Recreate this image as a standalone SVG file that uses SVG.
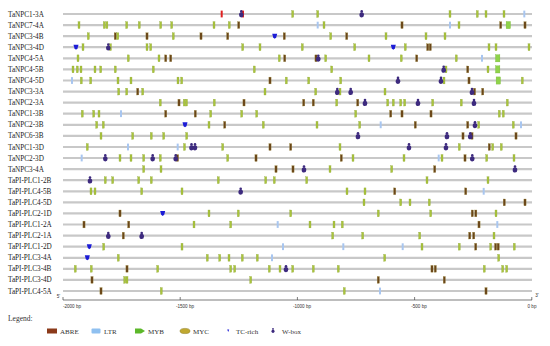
<svg xmlns="http://www.w3.org/2000/svg" xmlns:xlink="http://www.w3.org/1999/xlink" width="550" height="346" viewBox="0 0 550 346">
<style>
.bg{fill:#ffffff}
.ln{stroke:#c8c8c8;stroke-width:2.2}
.lab{font-family:"Liberation Serif",serif;font-size:7.2px;fill:#1a1a1a}
.ax{stroke:#444;stroke-width:0.7;fill:none}
.axt{font-family:"Liberation Sans",sans-serif;font-size:4.6px;fill:#333;text-anchor:middle}
.leg{font-family:"Liberation Serif",serif;font-size:7px;fill:#333}
</style>
<defs>
<rect id="g" x="-1" y="-3.4" width="2" height="6.8" fill="#a9c43c" stroke="#8aa432" stroke-width="0.3"/>
<rect id="b" x="-1.1" y="-3.4" width="2.2" height="6.8" fill="#6a4519" stroke="#9c8a3c" stroke-width="0.3"/>
<rect id="r" x="-1" y="-3.4" width="2" height="6.8" fill="#e02020"/>
<rect id="l" x="-1" y="-3.4" width="2" height="6.8" fill="#a8c6f0"/>
<rect id="G" x="-2.2" y="-3.6" width="4.4" height="7.2" fill="#8fd34a" stroke="#6fb030" stroke-width="0.3"/>
<path id="t" d="M-2.5,-2.5 L2.5,-2.5 L1.5,1.4 L0,2.5 L-1.5,1.4 Z" fill="#1c1cd6"/>
<g id="w" fill="#3d2a7e"><circle cx="0" cy="-2.6" r="1.3"/><ellipse cx="0" cy="0.8" rx="2.3" ry="2.6"/></g>
</defs>
<rect class="bg" x="0" y="0" width="550" height="346"/>

<g id="row-TaNPC1-3A" transform="translate(0,14)"><text class="lab" x="8" y="2.5">TaNPC1-3A</text><line class="ln" x1="63" y1="0" x2="532" y2="0"/>
<use href="#r" x="221.7"/><use href="#r" x="243"/><use href="#w" x="241.3"/><use href="#g" x="292.7"/><use href="#g" x="317.7"/><use href="#w" x="361.7"/><use href="#g" x="450"/><use href="#g" x="477.3"/><use href="#g" x="486"/><use href="#g" x="504"/><use href="#l" x="524.3"/></g>

<g id="row-TaNPC7-4A" transform="translate(0,25.1)"><text class="lab" x="8" y="2.5">TaNPC7-4A</text><line class="ln" x1="63" y1="0" x2="532" y2="0"/>
<use href="#g" x="79"/><use href="#g" x="104.3"/><use href="#g" x="106.9"/><use href="#g" x="126.7"/><use href="#g" x="139.3"/><use href="#g" x="160.7"/><use href="#g" x="171.7"/><use href="#g" x="214"/><use href="#g" x="229.3"/><use href="#b" x="238.7"/><use href="#l" x="317.7"/><use href="#g" x="324"/><use href="#b" x="402"/><use href="#l" x="450"/><use href="#g" x="459"/><use href="#b" x="500.7"/><use href="#G" x="508.3"/><use href="#b" x="525"/></g>

<g id="row-TaNPC3-4B" transform="translate(0,36.2)"><text class="lab" x="8" y="2.5">TaNPC3-4B</text><line class="ln" x1="63" y1="0" x2="532" y2="0"/>
<use href="#g" x="88.3"/><use href="#b" x="115.3"/><use href="#g" x="117.8"/><use href="#b" x="147"/><use href="#g" x="173.3"/><use href="#b" x="201"/><use href="#b" x="227.7"/><use href="#t" x="274.7"/><use href="#b" x="284.3"/><use href="#g" x="330.7"/><use href="#b" x="346.7"/><use href="#g" x="386"/><use href="#g" x="426"/><use href="#g" x="445"/></g>

<g id="row-TaNPC3-4D" transform="translate(0,47.2)"><text class="lab" x="8" y="2.5">TaNPC3-4D</text><line class="ln" x1="63" y1="0" x2="532" y2="0"/>
<use href="#t" x="76"/><use href="#g" x="83"/><use href="#g" x="110.5"/><use href="#w" x="108.3"/><use href="#g" x="147"/><use href="#g" x="150.7"/><use href="#g" x="242.7"/><use href="#g" x="260"/><use href="#g" x="302.3"/><use href="#g" x="354.7"/><use href="#t" x="393.3"/><use href="#g" x="405.3"/><use href="#b" x="427.7"/><use href="#b" x="430.3"/><use href="#g" x="489"/><use href="#g" x="496"/><use href="#g" x="529"/></g>

<g id="row-TaNPC4-5A" transform="translate(0,58.3)"><text class="lab" x="8" y="2.5">TaNPC4-5A</text><line class="ln" x1="63" y1="0" x2="532" y2="0"/>
<use href="#g" x="78"/><use href="#g" x="128.3"/><use href="#g" x="159"/><use href="#b" x="165.7"/><use href="#b" x="170.7"/><use href="#g" x="279.3"/><use href="#b" x="284.7"/><use href="#b" x="316"/><use href="#w" x="318.3"/><use href="#g" x="325.7"/><use href="#g" x="369"/><use href="#g" x="401.3"/><use href="#b" x="416.7"/><use href="#g" x="456.3"/><use href="#l" x="482"/><use href="#G" x="497.7"/></g>

<g id="row-TaNPC4-5B" transform="translate(0,69.4)"><text class="lab" x="8" y="2.5">TaNPC4-5B</text><line class="ln" x1="63" y1="0" x2="532" y2="0"/>
<use href="#g" x="73"/><use href="#g" x="77.3"/><use href="#g" x="81"/><use href="#g" x="95"/><use href="#g" x="100.7"/><use href="#g" x="115.3"/><use href="#g" x="153.3"/><use href="#g" x="254.3"/><use href="#g" x="331.7"/><use href="#g" x="446"/><use href="#w" x="443.7"/><use href="#b" x="467.7"/><use href="#g" x="488"/><use href="#G" x="497.7"/></g>

<g id="row-TaNPC4-5D" transform="translate(0,80.5)"><text class="lab" x="8" y="2.5">TaNPC4-5D</text><line class="ln" x1="63" y1="0" x2="532" y2="0"/>
<use href="#l" x="72"/><use href="#g" x="81.3"/><use href="#g" x="90.7"/><use href="#g" x="118"/><use href="#g" x="131"/><use href="#g" x="178"/><use href="#g" x="181.7"/><use href="#b" x="270"/><use href="#g" x="286.3"/><use href="#g" x="308.7"/><use href="#g" x="340.7"/><use href="#w" x="398"/><use href="#g" x="444"/><use href="#w" x="441"/><use href="#b" x="469"/><use href="#G" x="498.3"/><use href="#g" x="522.3"/></g>

<g id="row-TaNPC3-3A" transform="translate(0,91.6)"><text class="lab" x="8" y="2.5">TaNPC3-3A</text><line class="ln" x1="63" y1="0" x2="532" y2="0"/>
<use href="#g" x="118.7"/><use href="#g" x="126.7"/><use href="#b" x="137.7"/><use href="#g" x="142.7"/><use href="#g" x="265"/><use href="#g" x="315.7"/><use href="#g" x="340"/><use href="#w" x="337.3"/><use href="#w" x="350.7"/><use href="#g" x="385"/><use href="#b" x="474.5"/><use href="#w" x="472"/><use href="#b" x="482.7"/></g>

<g id="row-TaNPC2-3A" transform="translate(0,102.6)"><text class="lab" x="8" y="2.5">TaNPC2-3A</text><line class="ln" x1="63" y1="0" x2="532" y2="0"/>
<use href="#g" x="160.3"/><use href="#b" x="179"/><use href="#g" x="184.3"/><use href="#g" x="186.5"/><use href="#g" x="214.3"/><use href="#b" x="244"/><use href="#b" x="303.7"/><use href="#b" x="313.3"/><use href="#g" x="336.7"/><use href="#b" x="357.7"/><use href="#w" x="365"/><use href="#g" x="387.7"/><use href="#g" x="393.3"/><use href="#g" x="400.7"/><use href="#g" x="404.7"/><use href="#w" x="418"/><use href="#g" x="432.7"/><use href="#g" x="461.3"/><use href="#w" x="474"/><use href="#g" x="507.3"/></g>

<g id="row-TaNPC1-3B" transform="translate(0,113.7)"><text class="lab" x="8" y="2.5">TaNPC1-3B</text><line class="ln" x1="63" y1="0" x2="532" y2="0"/>
<use href="#g" x="82.3"/><use href="#g" x="93.7"/><use href="#g" x="99"/><use href="#l" x="121"/><use href="#b" x="165.7"/><use href="#b" x="195.3"/><use href="#g" x="210.7"/><use href="#g" x="241.7"/><use href="#g" x="256.7"/><use href="#g" x="355.7"/><use href="#b" x="390.7"/><use href="#b" x="402"/><use href="#b" x="431"/><use href="#g" x="499.3"/><use href="#g" x="503.3"/></g>

<g id="row-TaNPC2-3B" transform="translate(0,124.8)"><text class="lab" x="8" y="2.5">TaNPC2-3B</text><line class="ln" x1="63" y1="0" x2="532" y2="0"/>
<use href="#g" x="96.7"/><use href="#g" x="103.3"/><use href="#t" x="185"/><use href="#g" x="209"/><use href="#b" x="224.7"/><use href="#g" x="263.3"/><use href="#g" x="317"/><use href="#g" x="359.7"/><use href="#l" x="380.7"/><use href="#b" x="415.3"/><use href="#b" x="467.7"/><use href="#g" x="478.7"/><use href="#w" x="475"/><use href="#g" x="513.3"/><use href="#l" x="521"/></g>

<g id="row-TaNPC6-3B" transform="translate(0,135.9)"><text class="lab" x="8" y="2.5">TaNPC6-3B</text><line class="ln" x1="63" y1="0" x2="532" y2="0"/>
<use href="#g" x="101"/><use href="#g" x="132.7"/><use href="#g" x="151.3"/><use href="#g" x="163.7"/><use href="#g" x="186.7"/><use href="#w" x="358"/><use href="#w" x="447"/><use href="#b" x="463"/><use href="#b" x="472"/><use href="#w" x="470.3"/><use href="#b" x="516"/></g>

<g id="row-TaNPC1-3D" transform="translate(0,147)"><text class="lab" x="8" y="2.5">TaNPC1-3D</text><line class="ln" x1="63" y1="0" x2="532" y2="0"/>
<use href="#g" x="87.3"/><use href="#l" x="128"/><use href="#l" x="177.7"/><use href="#g" x="184.5"/><use href="#w" x="191.5"/><use href="#w" x="195"/><use href="#g" x="222.7"/><use href="#b" x="270"/><use href="#b" x="290.7"/><use href="#g" x="340"/><use href="#w" x="409"/><use href="#w" x="446"/><use href="#g" x="459.3"/><use href="#b" x="489.3"/><use href="#g" x="492.7"/><use href="#g" x="501.3"/></g>

<g id="row-TaNPC2-3D" transform="translate(0,158)"><text class="lab" x="8" y="2.5">TaNPC2-3D</text><line class="ln" x1="63" y1="0" x2="532" y2="0"/>
<use href="#l" x="81.7"/><use href="#w" x="105.3"/><use href="#g" x="120"/><use href="#g" x="131"/><use href="#g" x="143.7"/><use href="#w" x="152.7"/><use href="#g" x="160.3"/><use href="#b" x="177.5"/><use href="#w" x="175.7"/><use href="#g" x="227.7"/><use href="#b" x="256"/><use href="#b" x="341.3"/><use href="#g" x="353"/><use href="#g" x="404"/><use href="#l" x="438.7"/><use href="#g" x="442"/><use href="#b" x="465"/><use href="#w" x="472.3"/><use href="#g" x="486.7"/><use href="#g" x="514"/></g>

<g id="row-TaNPC3-4A" transform="translate(0,169.1)"><text class="lab" x="8" y="2.5">TaNPC3-4A</text><line class="ln" x1="63" y1="0" x2="532" y2="0"/>
<use href="#g" x="143.7"/><use href="#g" x="161"/><use href="#b" x="276"/><use href="#b" x="293"/><use href="#w" x="304"/><use href="#g" x="330"/><use href="#g" x="391.7"/><use href="#b" x="434.7"/><use href="#w" x="515"/></g>

<g id="row-TaPI-PLC1-2B" transform="translate(0,180.2)"><text class="lab" x="8" y="2.5">TaPI-PLC1-2B</text><line class="ln" x1="63" y1="0" x2="532" y2="0"/>
<use href="#w" x="90"/><use href="#g" x="105.3"/><use href="#g" x="112.7"/><use href="#g" x="138.7"/><use href="#g" x="151.3"/><use href="#g" x="218.3"/><use href="#g" x="265.7"/><use href="#g" x="274.3"/><use href="#g" x="306.7"/><use href="#g" x="427"/><use href="#g" x="488"/></g>

<g id="row-TaPI-PLC4-5B" transform="translate(0,191.3)"><text class="lab" x="8" y="2.5">TaPI-PLC4-5B</text><line class="ln" x1="63" y1="0" x2="532" y2="0"/>
<use href="#g" x="91"/><use href="#g" x="95"/><use href="#g" x="141.7"/><use href="#g" x="182"/><use href="#w" x="240.7"/><use href="#g" x="347"/><use href="#g" x="365"/><use href="#b" x="394.7"/><use href="#b" x="465.7"/><use href="#l" x="483.7"/></g>

<g id="row-TaPI-PLC4-5D" transform="translate(0,202.4)"><text class="lab" x="8" y="2.5">TaPI-PLC4-5D</text><line class="ln" x1="63" y1="0" x2="532" y2="0"/>
<use href="#g" x="364"/><use href="#g" x="400.7"/><use href="#g" x="410"/><use href="#g" x="429.3"/><use href="#b" x="504.3"/><use href="#b" x="525"/></g>

<g id="row-TaPI-PLC2-1D" transform="translate(0,213.4)"><text class="lab" x="8" y="2.5">TaPI-PLC2-1D</text><line class="ln" x1="63" y1="0" x2="532" y2="0"/>
<use href="#b" x="120"/><use href="#t" x="162.7"/><use href="#g" x="209"/><use href="#g" x="238.3"/><use href="#g" x="290.7"/><use href="#g" x="378.3"/><use href="#g" x="430.7"/><use href="#b" x="472.3"/><use href="#b" x="475.8"/><use href="#g" x="496"/></g>

<g id="row-TaPI-PLC1-2A" transform="translate(0,224.5)"><text class="lab" x="8" y="2.5">TaPI-PLC1-2A</text><line class="ln" x1="63" y1="0" x2="532" y2="0"/>
<use href="#b" x="84"/><use href="#b" x="128.7"/><use href="#g" x="194"/><use href="#g" x="230.7"/><use href="#l" x="277.7"/><use href="#g" x="310"/><use href="#g" x="334"/><use href="#g" x="342.3"/><use href="#b" x="479"/><use href="#l" x="497.3"/></g>

<g id="row-TaPI-PLC2-1A" transform="translate(0,235.6)"><text class="lab" x="8" y="2.5">TaPI-PLC2-1A</text><line class="ln" x1="63" y1="0" x2="532" y2="0"/>
<use href="#w" x="108.3"/><use href="#b" x="123.3"/><use href="#w" x="141.7"/><use href="#g" x="332.7"/><use href="#g" x="362.7"/><use href="#g" x="419.7"/><use href="#b" x="469.7"/><use href="#b" x="473.7"/><use href="#g" x="494"/></g>

<g id="row-TaPI-PLC1-2D" transform="translate(0,246.7)"><text class="lab" x="8" y="2.5">TaPI-PLC1-2D</text><line class="ln" x1="63" y1="0" x2="532" y2="0"/>
<use href="#t" x="89.3"/><use href="#g" x="103.7"/><use href="#g" x="182"/><use href="#l" x="283"/><use href="#l" x="343.3"/><use href="#l" x="402.7"/><use href="#g" x="422"/><use href="#g" x="459.3"/><use href="#b" x="475.7"/><use href="#g" x="490.7"/><use href="#b" x="495.6"/><use href="#b" x="498.2"/><use href="#g" x="514.3"/></g>

<g id="row-TaPI-PLC3-4A" transform="translate(0,257.8)"><text class="lab" x="8" y="2.5">TaPI-PLC3-4A</text><line class="ln" x1="63" y1="0" x2="532" y2="0"/>
<use href="#t" x="87.3"/><use href="#g" x="118.3"/><use href="#g" x="207.3"/><use href="#g" x="219.7"/><use href="#g" x="229"/><use href="#g" x="242.3"/><use href="#g" x="257.3"/><use href="#l" x="272"/><use href="#g" x="384.7"/><use href="#g" x="498.7"/></g>

<g id="row-TaPI-PLC3-4B" transform="translate(0,268.8)"><text class="lab" x="8" y="2.5">TaPI-PLC3-4B</text><line class="ln" x1="63" y1="0" x2="532" y2="0"/>
<use href="#g" x="75.3"/><use href="#g" x="91.3"/><use href="#b" x="127"/><use href="#g" x="157.7"/><use href="#g" x="230.7"/><use href="#g" x="234.7"/><use href="#g" x="269.3"/><use href="#g" x="280"/><use href="#w" x="286"/><use href="#g" x="292.7"/><use href="#g" x="313.3"/><use href="#g" x="338.3"/><use href="#b" x="432"/><use href="#b" x="435.3"/><use href="#g" x="484.3"/><use href="#g" x="502.7"/><use href="#g" x="506.7"/></g>

<g id="row-TaPI-PLC3-4D" transform="translate(0,279.9)"><text class="lab" x="8" y="2.5">TaPI-PLC3-4D</text><line class="ln" x1="63" y1="0" x2="532" y2="0"/>
<use href="#b" x="92"/><use href="#g" x="124.7"/><use href="#g" x="127"/><use href="#g" x="250.7"/><use href="#b" x="378.3"/><use href="#b" x="444.3"/></g>

<g id="row-TaPI-PLC4-5A" transform="translate(0,291)"><text class="lab" x="8" y="2.5">TaPI-PLC4-5A</text><line class="ln" x1="63" y1="0" x2="532" y2="0"/>
<use href="#b" x="101"/><use href="#g" x="161.3"/><use href="#g" x="344.3"/><use href="#l" x="380"/><use href="#b" x="486"/></g>

<g id="axis">
<path class="ax" d="M63,300 H532 M63,300 V297 M180.2,300 V297 M297.4,300 V297 M414.6,300 V297 M531.8,300 V297"/>
<text class="axt" x="58.5" y="298">5'</text>
<text class="axt" x="537" y="297">3'</text>
<text class="axt" x="72" y="308">-2000 bp</text>
<text class="axt" x="185" y="308">-1500 bp</text>
<text class="axt" x="302" y="308">-1000 bp</text>
<text class="axt" x="419" y="308">-500 bp</text>
<text class="axt" x="532" y="308">0 bp</text>
</g>

<g id="legend">
<text class="leg" x="8" y="320.5" style="font-size:7.5px">Legend:</text>
<rect x="47" y="328.5" width="10" height="5" fill="#8b3a1a"/>
<text class="leg" x="60" y="333.5">ABRE</text>
<rect x="91.5" y="328.5" width="9" height="5" rx="1" fill="#8fc0f0"/>
<text class="leg" x="104" y="333.5">LTR</text>
<path d="M135,328.5 H141 L145,331 L141,333.5 H135 Z" fill="#5cb82a"/>
<text class="leg" x="148" y="333.5">MYB</text>
<ellipse cx="185" cy="331" rx="5" ry="2.6" fill="#c0a830" stroke="#8a7a20" stroke-width="0.5"/>
<text class="leg" x="193" y="333.5">MYC</text>
<path d="M227.2,329.5 L229.2,329.5 L228.2,332 Z" fill="#1c1cd6"/>
<text class="leg" x="236" y="333.5">TC-rich</text>
<g fill="#3d2a7e"><circle cx="273" cy="328.8" r="0.9"/><ellipse cx="273" cy="331.2" rx="1.5" ry="1.7"/></g>
<text class="leg" x="282" y="333.5">W-box</text>
</g>
</svg>
